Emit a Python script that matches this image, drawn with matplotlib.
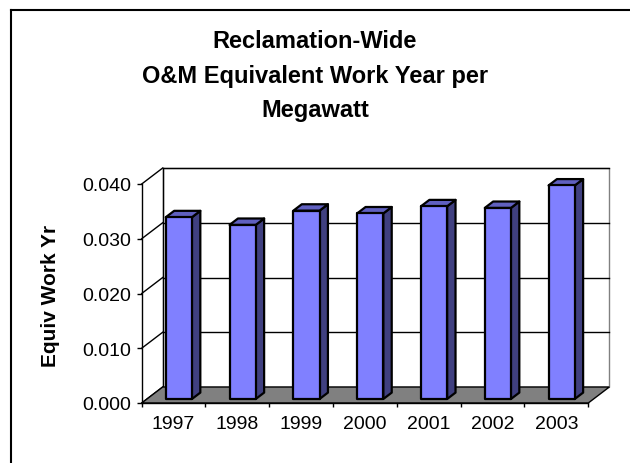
import numpy as np
import matplotlib
matplotlib.use("Agg")
import matplotlib.pyplot as plt
from matplotlib.patches import Rectangle, Polygon

# Data
years = ["1997", "1998", "1999", "2000", "2001", "2002", "2003"]
work_yr = [0.0332, 0.0318, 0.0344, 0.0339, 0.0352, 0.0349, 0.0390]
yticks = [0.000, 0.010, 0.020, 0.030, 0.040]
title_lines = ["Reclamation-Wide", "O&M Equivalent Work Year per", "Megawatt"]

W, H = 630, 464
plt.rcParams['font.family'] = ['Liberation Sans', 'DejaVu Sans']
fig = plt.figure(figsize=(W / 100, H / 100), dpi=100)

# front plane of the pseudo-3D plot, in figure pixels
left, right, y0px, y1px = 141.7, 588.3, 404, 185
ax = fig.add_axes([left / W, (H - y0px) / H, (right - left) / W, (y0px - y1px) / H])
n = len(years)
ax.set_xlim(-0.5, n - 0.5)
ax.set_ylim(0, 0.04)

# depth offset (21 px right, 16 px up) in data units
DX = 21 / ((right - left) / n)
DY = 16 / ((y0px - y1px) / 0.04)

# back wall + gridlines
ax.add_patch(Rectangle((-0.5 + DX, DY), n, 0.04, facecolor='white',
                       edgecolor='#808080', lw=1, clip_on=False, zorder=1))
for t in yticks[1:]:
    ax.plot([-0.5 + DX, n - 0.5 + DX], [t + DY, t + DY], color='black', lw=1,
            clip_on=False, zorder=2)
ax.plot([-0.5 + DX, -0.5 + DX], [DY, 0.04 + DY], color='black', lw=1,
        clip_on=False, zorder=2)
# left wall diagonals
for t in yticks:
    ax.plot([-0.5, -0.5 + DX], [t, t + DY], color='black', lw=1, clip_on=False, zorder=2)

# floor
ax.add_patch(Polygon([(-0.5, 0), (n - 0.5, 0), (n - 0.5 + DX, DY), (-0.5 + DX, DY)],
                     closed=True, facecolor='#808080', edgecolor='black', lw=1,
                     clip_on=False, zorder=3))

# bars
f0, f1, w = 0.25, 0.65, 0.41
ddx, ddy = (f1 - f0) * DX, (f1 - f0) * DY
for i, v in enumerate(work_yr):
    x0 = i - w / 2 + f0 * DX
    x1 = x0 + w
    b = f0 * DY
    top = b + v
    ax.add_patch(Polygon([(x1, b), (x1 + ddx, b + ddy), (x1 + ddx, top + ddy), (x1, top)],
                         closed=True, facecolor='#404080', edgecolor='black', lw=1.6,
                         joinstyle='round', clip_on=False, zorder=4))
    ax.add_patch(Polygon([(x0, top), (x1, top), (x1 + ddx, top + ddy), (x0 + ddx, top + ddy)],
                         closed=True, facecolor='#6060C0', edgecolor='black', lw=1.6,
                         joinstyle='round', clip_on=False, zorder=4))
    ax.add_patch(Rectangle((x0, b), w, v, facecolor='#8080FF', edgecolor='black',
                           lw=1.6, joinstyle='round', clip_on=False, zorder=5))

# axes / ticks
for s in ['top', 'right']:
    ax.spines[s].set_visible(False)
for s in ['left', 'bottom']:
    ax.spines[s].set_linewidth(1)
    ax.spines[s].set_zorder(6)
ax.set_yticks(yticks)
ax.set_yticklabels([f"{t:.3f}" for t in yticks], fontsize=14)
ax.tick_params(axis='y', length=3.6, width=1, pad=4, direction='out')
ax.set_xticks(range(n))
ax.set_xticklabels(years, fontsize=14)
ax.set_xticks(np.arange(-0.5, n, 1.0), minor=True)
ax.tick_params(axis='x', which='major', length=0, pad=8.5)
ax.tick_params(axis='x', which='minor', length=3, width=1, direction='out')
ax.patch.set_visible(False)

fig.text(51 / W, 1 - 296 / H, "Equiv Work Yr", rotation=90, ha='center', va='center',
         fontsize=15, fontweight='bold')

for line, base in zip(title_lines, [48.5, 82.5, 116.5]):
    fig.text(315 / W, 1 - base / H, line, ha='center', va='baseline',
             fontsize=17, fontweight='bold')

# chart area border (left and top visible)
fig.add_artist(plt.Line2D([11 / W, 11 / W], [0, 1 - 11 / H], color='black', lw=1.5,
                          transform=fig.transFigure))
fig.add_artist(plt.Line2D([11 / W, 1], [1 - 11 / H, 1 - 11 / H], color='black', lw=1.5,
                          transform=fig.transFigure))

fig.savefig("out.png", dpi=100)
